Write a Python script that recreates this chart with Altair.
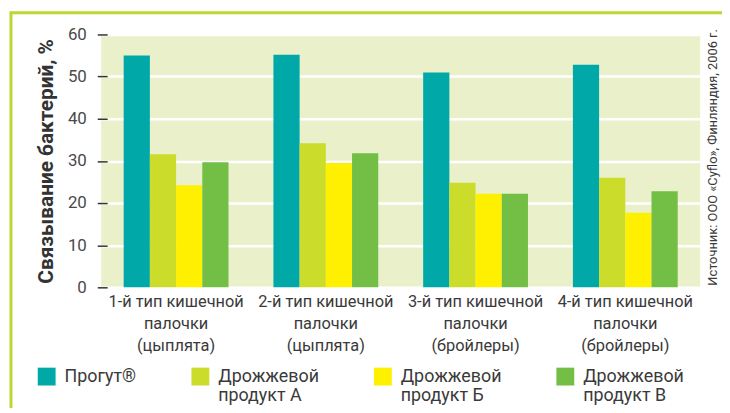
import altair as alt
import pandas as pd

groups = [
    "1-й тип кишечной\nпалочки\n(цыплята)",
    "2-й тип кишечной\nпалочки\n(цыплята)",
    "3-й тип кишечной\nпалочки\n(бройлеры)",
    "4-й тип кишечной\nпалочки\n(бройлеры)",
]
series = ["Прогут®", "Дрожжевой\nпродукт А", "Дрожжевой\nпродукт Б", "Дрожжевой\nпродукт В"]
colors = ["#00A9A8", "#CBDC2A", "#FFEF00", "#73BF45"]
progut = [55.0, 55.2, 51.0, 52.8]
prod_a = [31.6, 34.2, 24.8, 26.0]
prod_b = [24.2, 29.5, 22.2, 17.7]
prod_v = [29.7, 31.8, 22.2, 22.8]
y_ticks = [0, 10, 20, 30, 40, 50, 60]
y_title = "Связывание бактерий, %"
source_text = ["Источник: ООО «Cyflo», Финляндия, 2006 г."]

rows = []
for s, vals in zip(series, [progut, prod_a, prod_b, prod_v]):
    for g, v in zip(groups, vals):
        rows.append({"group": g, "series": s, "value": v})
df = pd.DataFrame(rows)

FONT = "Roboto"
TEXT = "#3a3a3a"

bars = alt.Chart(df).mark_bar().encode(
    x=alt.X("group:N", sort=groups,
            scale=alt.Scale(paddingInner=0.3, paddingOuter=0.15),
            axis=alt.Axis(title=None, ticks=False, domain=False, labelAngle=0,
                          labelFont=FONT, labelFontSize=16.5, labelColor=TEXT,
                          labelPadding=6, labelLineHeight=22.5, labelLimit=0,
                          labelExpr="split(datum.label, '\\n')")),
    xOffset=alt.XOffset("series:N", sort=series,
                        scale=alt.Scale(paddingInner=0, paddingOuter=0)),
    y=alt.Y("value:Q", scale=alt.Scale(domain=[0, 60], nice=False),
            axis=alt.Axis(values=y_ticks, tickSize=10, tickColor="#333333", tickWidth=1.5,
                          domain=False, gridColor="white", gridWidth=2.5,
                          labelFont=FONT, labelFontSize=17, labelColor="#4a4a4a",
                          labelPadding=11, offset=-6,
                          title=y_title, titleFont=FONT, titleFontSize=21,
                          titleFontWeight="bold", titleColor="#333333", titlePadding=11)),
    color=alt.Color("series:N", sort=series,
                    scale=alt.Scale(domain=series, range=colors),
                    legend=alt.Legend(title=None, orient="none", legendX=-64, legendY=336,
                                      direction="horizontal", columns=4, gridAlign="none",
                                      columnPadding=55, symbolType="square", symbolSize=324,
                                      symbolStrokeWidth=0, labelFont=FONT, labelFontSize=18,
                                      labelColor=TEXT, labelOffset=9, labelLimit=0,
                                      labelExpr="split(datum.label, '\\n')")),
)

border = alt.Chart(pd.DataFrame({"a": [0]})).mark_rect(
    fillOpacity=0, stroke="#BCD632", strokeWidth=3
).encode(
    x=alt.value(-91), x2=alt.value(800), y=alt.value(-22), y2=alt.value(600)
)

src = alt.Chart(pd.DataFrame({"t": source_text})).mark_text(
    angle=270, font=FONT, fontSize=13, color=TEXT, align="center", baseline="middle"
).encode(
    text="t:N", x=alt.value(617), y=alt.value(124)
)

chart = alt.layer(border, bars, src).properties(
    width=604, height=255,
    padding={"left": 94, "top": 25, "right": 22, "bottom": 120},
    autosize=alt.AutoSizeParams(type="none"),
    background="white",
).configure_view(fill="#E9F0CA", strokeWidth=0)

chart.save("out.html", embed_options={"renderer": "svg", "actions": False})
